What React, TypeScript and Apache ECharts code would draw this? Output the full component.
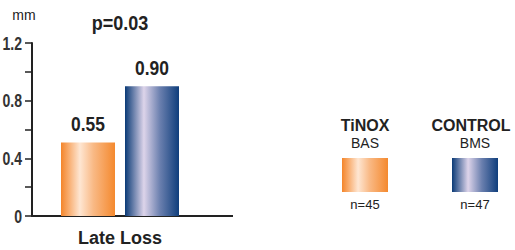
import React, { useEffect, useRef } from "react";
import * as echarts from "echarts";

const categories = ["Late Loss"];
const seriesNames = ["TiNOX BAS", "CONTROL BMS"];
const barValues = [0.51, 0.9];
const valueLabels = ["0.55", "0.90"];
const legendTop = ["TiNOX", "CONTROL"];
const legendSub = ["BAS", "BMS"];
const legendN = ["n=45", "n=47"];
const yTicks = [0, 0.4, 0.8, 1.2];
const yTickLabels = ["0", "0.4", "0.8", "1.2"];
const pValue = "p=0.03";
const unit = "mm";

const SANS = '"Liberation Sans", Arial, sans-serif';

const orangeGrad = () =>
  new echarts.graphic.LinearGradient(0, 0, 1, 0, [
    { offset: 0, color: "#f4852a" },
    { offset: 0.35, color: "#fee6d2" },
    { offset: 0.6, color: "#f9b985" },
    { offset: 1, color: "#f4892e" },
  ]);
const blueGrad = () =>
  new echarts.graphic.LinearGradient(0, 0, 1, 0, [
    { offset: 0, color: "#0a3a76" },
    { offset: 0.35, color: "#ddd4ea" },
    { offset: 0.65, color: "#6a7fae" },
    { offset: 1, color: "#0f3e7c" },
  ]);
const grads = [orangeGrad, blueGrad];

const BAR_W = 54;
const BAR_GAP = 10;

export default function App() {
  const ref = useRef<HTMLDivElement>(null);
  useEffect(() => {
    if (!ref.current) return;
    const chart = echarts.init(ref.current, undefined, { renderer: "svg" });
    const legendCenters = [365, 475];
    const legendTopCenters = [365, 471];
    const graphic: any[] = [
      {
        type: "line",
        shape: { x1: 208, y1: 216, x2: 233, y2: 216 },
        style: { stroke: "#222", lineWidth: 2 },
      },
      {
        type: "text",
        x: 120,
        y: 23,
        scaleX: 0.9,
        style: {
          text: pValue,
          font: "bold 20px " + SANS,
          fill: "#222",
          align: "center",
          verticalAlign: "middle",
        },
      },
      {
        type: "text",
        x: 24,
        y: 15,
        style: {
          text: unit,
          font: "14px " + SANS,
          fill: "#222",
          align: "center",
          verticalAlign: "middle",
        },
      },
    ];
    legendCenters.forEach((cx, i) => {
      graphic.push(
        {
          type: "text",
          x: legendTopCenters[i],
          y: 125,
          style: {
            text: legendTop[i],
            font: "bold 16px " + SANS,
            fill: "#222",
            align: "center",
            verticalAlign: "middle",
          },
        },
        {
          type: "text",
          x: cx,
          y: 143,
          style: {
            text: legendSub[i],
            font: "14px " + SANS,
            fill: "#222",
            align: "center",
            verticalAlign: "middle",
          },
        },
        {
          type: "rect",
          shape: { x: cx - 23, y: 158, width: 46, height: 34 },
          style: { fill: grads[i]() },
        },
        {
          type: "text",
          x: cx,
          y: 204,
          style: {
            text: legendN[i],
            font: "13px " + SANS,
            fill: "#222",
            align: "center",
            verticalAlign: "middle",
          },
        }
      );
    });
    chart.setOption({
      animation: false,
      grid: { left: 32, top: 43, width: 176, height: 173 },
      xAxis: {
        type: "category",
        data: categories,
        axisLine: { lineStyle: { color: "#222", width: 2 } },
        axisTick: { show: false },
        axisLabel: {
          margin: 13,
          fontFamily: SANS,
          fontWeight: "bold",
          fontSize: 18,
          color: "#222",
        },
      },
      yAxis: {
        type: "value",
        min: 0,
        max: 1.2,
        interval: 0.2,
        splitLine: { show: false },
        axisLine: { show: true, lineStyle: { color: "#222", width: 2 } },
        axisTick: { show: true, length: 7, lineStyle: { color: "#222", width: 1.5 } },
        axisLabel: { show: false },
      },
      series: [
        ...seriesNames.map((name, i) => ({
          name,
          type: "bar",
          barWidth: BAR_W,
          barGap: (BAR_GAP / BAR_W) * 100 + "%",
          data: [barValues[i]],
          itemStyle: { color: grads[i]() },
        })),
        {
          name: "valueLabels",
          type: "custom",
          clip: false,
          silent: true,
          data: barValues.map((v, i) => [0, v, i]),
          encode: { x: 0, y: 1 },
          renderItem: (params: any, api: any) => {
            const idx = api.value(2);
            const pt = api.coord([api.value(0), api.value(1)]);
            const off = ((BAR_W + BAR_GAP) / 2) * (idx === 0 ? -1 : 1);
            return {
              type: "text",
              x: pt[0] + off,
              y: pt[1] - 18,
              scaleX: 0.87,
              style: {
                text: valueLabels[idx],
                x: 0,
                y: 0,
                font: "bold 20px " + SANS,
                fill: "#222",
                align: "center",
                verticalAlign: "middle",
              },
            };
          },
        },
        {
          name: "yLabels",
          type: "custom",
          clip: false,
          silent: true,
          data: yTicks.map((v, i) => [0, v, i]),
          encode: { x: 0, y: 1 },
          renderItem: (params: any, api: any) => {
            const idx = api.value(2);
            const pt = api.coord([api.value(0), api.value(1)]);
            return {
              type: "text",
              x: params.coordSys.x - 10,
              y: pt[1] + 0.5,
              scaleX: 0.74,
              style: {
                text: yTickLabels[idx],
                x: 0,
                y: 0,
                font: "bold 19px " + SANS,
                fill: "#333",
                align: "right",
                verticalAlign: "middle",
              },
            };
          },
        },
      ],
      graphic,
    });
    return () => chart.dispose();
  }, []);
  return <div ref={ref} style={{ width: 515, height: 250, position: "absolute", left: 0, top: 0, background: "#fff" }} />;
}
